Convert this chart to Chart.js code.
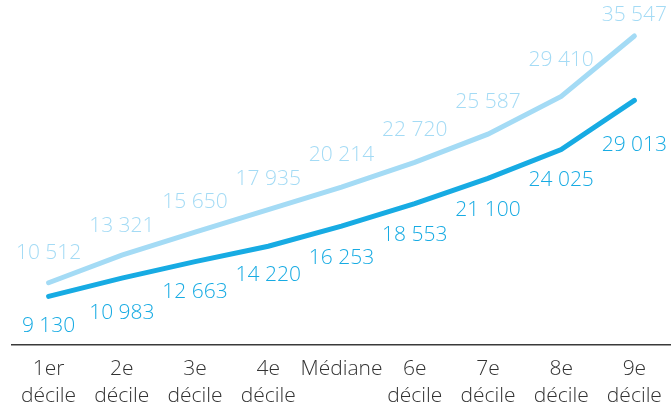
<!DOCTYPE html>
<html lang="fr">
<head>
<meta charset="UTF-8">
<title>Déciles</title>
<script src="https://cdn.jsdelivr.net/npm/chart.js"></script>
<style>
  body { margin: 0; background: #fff; }
  #wrap { width: 671px; height: 412px; }
</style>
</head>
<body>
<div id="wrap"><canvas id="chart" width="671" height="412"></canvas></div>
<script>
// categories (two-line labels)
const labels = [
  ['1er', 'décile'], ['2e', 'décile'], ['3e', 'décile'], ['4e', 'décile'],
  ['Médiane', ''], ['6e', 'décile'], ['7e', 'décile'], ['8e', 'décile'], ['9e', 'décile']
];
const upperValues = [10512, 13321, 15650, 17935, 20214, 22720, 25587, 29410, 35547];
const lowerValues = [9130, 10983, 12663, 14220, 16253, 18553, 21100, 24025, 29013];

const lightBlue = '#a4dbf5';
const darkBlue = '#17abe3';

// vertical distance (px) of each value label from its point
const upperLabelShift = [-30, -29, -30, -31, -32, -32, -32, -36, -21];
const lowerLabelShift = [30, 35, 30, 29, 32, 31, 32, 30, 45];

function fmt(v) {
  return String(v).replace(/\B(?=(\d{3})+(?!\d))/g, ' ');
}

const valueLabels = {
  id: 'valueLabels',
  afterDatasetsDraw(chart) {
    const ctx = chart.ctx;
    ctx.save();
    ctx.font = '300 21px "Open Sans"';
    ctx.textAlign = 'center';
    ctx.textBaseline = 'middle';
    chart.data.datasets.forEach((ds, i) => {
      const meta = chart.getDatasetMeta(i);
      ctx.fillStyle = ds.borderColor;
      meta.data.forEach((pt, j) => {
        ctx.fillText(fmt(ds.data[j]), pt.x, pt.y + ds.labelShift[j]);
      });
    });
    ctx.restore();
  }
};

new Chart(document.getElementById('chart').getContext('2d'), {
  type: 'line',
  data: {
    labels: labels,
    datasets: [
      {
        data: upperValues,
        borderColor: lightBlue,
        borderWidth: 5,
        pointRadius: 0,
        fill: false,
        tension: 0,
        borderCapStyle: 'round',
        labelShift: upperLabelShift
      },
      {
        data: lowerValues,
        borderColor: darkBlue,
        borderWidth: 5,
        pointRadius: 0,
        fill: false,
        tension: 0,
        borderCapStyle: 'round',
        labelShift: lowerLabelShift
      }
    ]
  },
  options: {
    responsive: false,
    animation: false,
    devicePixelRatio: 1,
    layout: { padding: { left: 12, right: 0, top: 0, bottom: 0 } },
    plugins: {
      legend: { display: false },
      tooltip: { enabled: false }
    },
    scales: {
      x: {
        offset: true,
        grid: { display: false },
        border: { display: true, color: '#3a3a3a', width: 1.5 },
        ticks: {
          color: '#333',
          font: { family: 'Open Sans', size: 21, weight: 300, lineHeight: 1.3 },
          padding: 2,
          maxRotation: 0,
          autoSkip: false
        },
        afterFit(scale) { scale.height = 67; }
      },
      y: {
        display: false,
        min: 4200,
        max: 39200
      }
    }
  },
  plugins: [valueLabels]
});
</script>
</body>
</html>
